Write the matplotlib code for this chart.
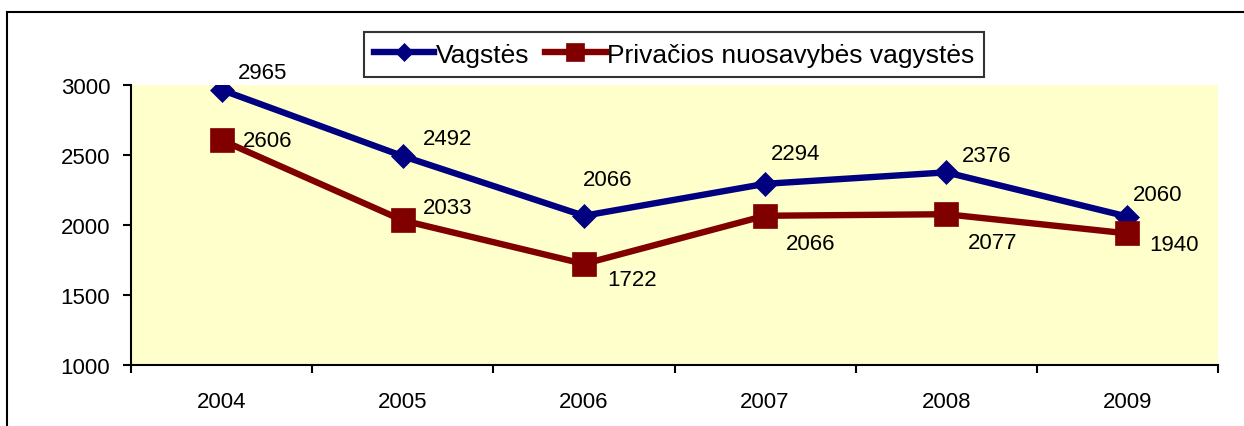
import matplotlib
import matplotlib.pyplot as plt
import numpy as np
from matplotlib.patches import Rectangle

matplotlib.rcParams["font.family"] = ["Liberation Sans", "DejaVu Sans"]

years = ["2004", "2005", "2006", "2007", "2008", "2009"]
vagystes = [2965, 2492, 2066, 2294, 2376, 2060]
privacios = [2606, 2033, 1722, 2066, 2077, 1940]

label_vag = "Vagstės"
label_priv = "Privačios nuosavybės vagystės"

# label offsets in pixels (dx, dy)
off_vag = [(41, 17), (45, 18), (24, 36), (30, 30), (40, 17), (30, 22)]
off_priv = [(46, 0), (45, 13), (48, -16), (46, -28), (46, -28), (47, -11)]

blue = "#000080"
red = "#800000"

fig = plt.figure(figsize=(12.44, 4.27), dpi=100)
fig.patch.set_facecolor("white")
ax = fig.add_axes([131 / 1244, 1 - 366 / 427, (1218 - 131) / 1244, (366 - 86) / 427])
ax.set_facecolor("#FFFFCC")

x = np.arange(len(years))

line1, = ax.plot(x, vagystes, color=blue, linewidth=4.6, marker="D",
                 markersize=12.5, markeredgewidth=0.5, label=label_vag, zorder=3)
line2, = ax.plot(x, privacios, color=red, linewidth=4.6, marker="s",
                 markersize=17, markeredgewidth=0.5, label=label_priv, zorder=4)

for xi, v, (dx, dy) in zip(x, vagystes, off_vag):
    ax.annotate(str(v), (xi, v), xytext=(dx, dy), textcoords="offset pixels",
                ha="center", va="center", fontsize=16, zorder=5)
for xi, v, (dx, dy) in zip(x, privacios, off_priv):
    ax.annotate(str(v), (xi, v), xytext=(dx, dy), textcoords="offset pixels",
                ha="center", va="center", fontsize=16, zorder=5)

ax.set_xlim(-0.5, len(years) - 0.5)
ax.set_ylim(1000, 3000)
ax.set_yticks([1000, 1500, 2000, 2500, 3000])
ax.tick_params(axis="y", direction="out", length=6, width=1.5, pad=9, labelsize=16)

# tick marks between categories, labels at centers
ax.set_xticks(np.arange(len(years) + 1) - 0.5)
ax.set_xticklabels([])
ax.set_xticks(x, minor=True)
ax.set_xticklabels(years, minor=True)
ax.tick_params(axis="x", which="major", direction="out", length=6, width=1.5)
ax.tick_params(axis="x", which="minor", length=0, pad=19, labelsize=16)

ax.spines["top"].set_visible(False)
ax.spines["right"].set_visible(False)
ax.spines["left"].set_linewidth(1.5)
ax.spines["bottom"].set_linewidth(1.5)

leg = fig.legend([line1, line2], [label_vag, label_priv], loc="center",
                 bbox_to_anchor=(674 / 1244, 1 - 55.5 / 427), ncol=2, fontsize=19,
                 frameon=True, fancybox=False, handlelength=2.3,
                 handletextpad=0.05, columnspacing=0.6, borderpad=0.38,
                 borderaxespad=0)
leg.get_frame().set_edgecolor("black")
leg.get_frame().set_linewidth(1.5)
leg.legend_handles[0].set_markersize(9)
leg.legend_handles[1].set_markersize(13)

# outer chart frame, cut off at right and bottom
frame = Rectangle((7 / 1244, -0.2), 1.2, 0.2 + (1 - 13 / 427),
                  transform=fig.transFigure, fill=False, edgecolor="black",
                  linewidth=1.5, clip_on=False)
fig.patches.append(frame)

plt.savefig("out.png", dpi=100, facecolor="white")
plt.close()
